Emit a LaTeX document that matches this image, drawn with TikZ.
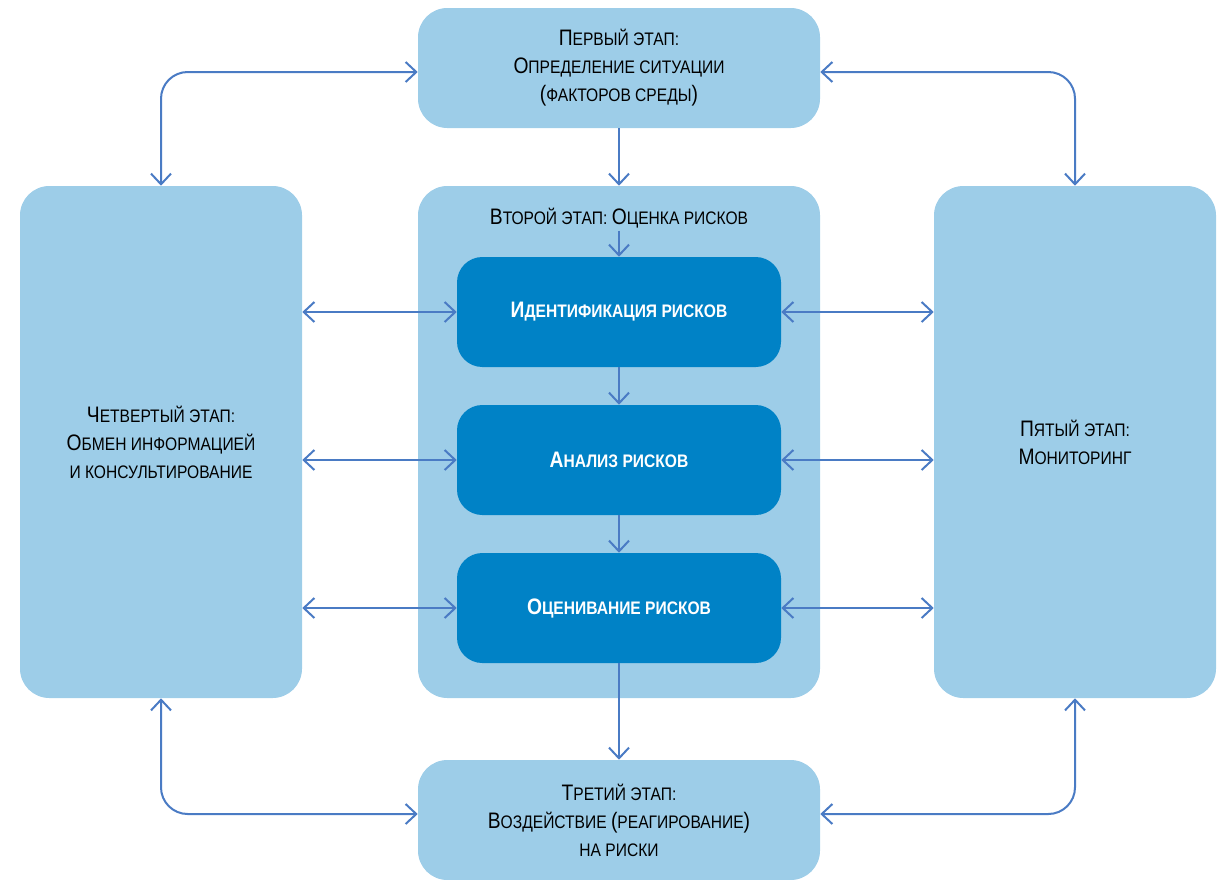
\documentclass[tikz,border=0pt]{standalone}
\usepackage{fontspec}
\setmainfont[FakeStretch=0.86]{Liberation Sans}
\usetikzlibrary{arrows.meta}
\definecolor{lightbox}{HTML}{9DCDE8}
\definecolor{darkbox}{HTML}{0082C6}
\definecolor{arrowc}{HTML}{4A7BC4}
\newcommand{\capx}[1]{{\fontsize{16.8}{21}\selectfont #1}}
\newcommand{\smx}[1]{{\fontsize{13.6}{21}\selectfont #1}}
\tikzset{
  outerbox/.style={fill=lightbox, draw=none, rounded corners=22pt, align=center,
    inner sep=0pt, font=\fontsize{13.6}{21}\selectfont},
  innerbox/.style={fill=darkbox, draw=none, rounded corners=19pt, align=center,
    inner sep=0pt, text=white, font=\bfseries\fontsize{13.6}{21}\selectfont,
    minimum width=243pt, minimum height=82.5pt},
  conn/.style={draw=arrowc, line width=1.5pt,
    arrows={Straight Barb[length=8pt,width=15pt,line width=1.5pt]-Straight Barb[length=8pt,width=15pt,line width=1.5pt]}},
  oneway/.style={draw=arrowc, line width=1.5pt,
    arrows={-Straight Barb[length=8pt,width=15pt,line width=1.5pt]}}
}
\begin{document}
\begin{tikzpicture}[x=0.75pt,y=-0.75pt]
\useasboundingbox (0,0) rectangle (1223,879);
% boxes
\node[outerbox, minimum width=301.5pt, minimum height=90pt] (top) at (619,68)
  {\capx{П}\smx{ЕРВЫЙ ЭТАП:}\\ \capx{О}\smx{ПРЕДЕЛЕНИЕ СИТУАЦИИ}\\ \capx{(}\smx{ФАКТОРОВ СРЕДЫ}\capx{)}};
\node[outerbox, minimum width=301.5pt, minimum height=384pt] (mid) at (619,442) {};
\node[outerbox, minimum width=211.5pt, minimum height=384pt] (left) at (161,442)
  {\capx{Ч}\smx{ЕТВЕРТЫЙ ЭТАП:}\\ \capx{О}\smx{БМЕН ИНФОРМАЦИЕЙ}\\ \smx{И КОНСУЛЬТИРОВАНИЕ}};
\node[outerbox, minimum width=211.5pt, minimum height=384pt] (right) at (1075,442)
  {\capx{П}\smx{ЯТЫЙ ЭТАП:}\\ \capx{М}\smx{ОНИТОРИНГ}};
\node[outerbox, minimum width=301.5pt, minimum height=90pt] (bottom) at (619,820)
  {\capx{Т}\smx{РЕТИЙ ЭТАП:}\\ \capx{В}\smx{ОЗДЕЙСТВИЕ} \capx{(}\smx{РЕАГИРОВАНИЕ}\capx{)}\\ \smx{НА РИСКИ}};
\node[font=\fontsize{13.6}{21}\selectfont, inner sep=2pt] (t2) at (619,218)
  {\capx{В}\smx{ТОРОЙ ЭТАП:} \capx{О}\smx{ЦЕНКА РИСКОВ}};
\node[innerbox] (ident) at (619,312) {\capx{И}\smx{ДЕНТИФИКАЦИЯ РИСКОВ}};
\node[innerbox] (anal) at (619,460) {\capx{А}\smx{НАЛИЗ РИСКОВ}};
\node[innerbox] (eval) at (619,608) {\capx{О}\smx{ЦЕНИВАНИЕ РИСКОВ}};
% vertical flow
\draw[oneway] (top.south) -- (mid.north);
\draw[oneway] (t2.south) -- (ident.north);
\draw[oneway] (ident.south) -- (anal.north);
\draw[oneway] (anal.south) -- (eval.north);
\draw[oneway] (eval.south) -- (bottom.north);
% horizontal links
\foreach \n in {ident,anal,eval}{
  \draw[conn] (left.east |- \n.west) -- (\n.west);
  \draw[conn] (\n.east) -- (right.west |- \n.east);
}
% corner loops
\draw[conn, rounded corners=20pt] (left.north) |- ([yshift=-3pt]top.west);
\draw[conn, rounded corners=20pt] (right.north) |- ([yshift=-3pt]top.east);
\draw[conn, rounded corners=20pt] (left.south) |- ([yshift=4.5pt]bottom.west);
\draw[conn, rounded corners=20pt] (right.south) |- ([yshift=4.5pt]bottom.east);
\end{tikzpicture}
\end{document}
